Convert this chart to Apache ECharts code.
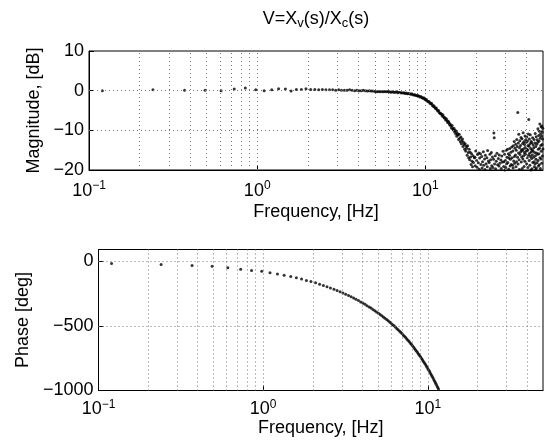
<!DOCTYPE html>
<html>
<head>
<meta charset="utf-8">
<script src="https://cdn.jsdelivr.net/npm/echarts@6/dist/echarts.min.js"></script>
<style>
html, body { margin: 0; padding: 0; background: #fff; }
#chart { width: 545px; height: 444px; }
</style>
</head>
<body>
<div id="chart"></div>
<script>
// frequency bins, Hz
let freq = [
    0.12, 0.24, 0.37, 0.49, 0.61, 0.73, 0.85, 0.98, 1.10, 1.22,
    1.34, 1.47, 1.59, 1.71, 1.83, 1.95, 2.08, 2.20, 2.32, 2.44,
    2.56, 2.69, 2.81, 2.93, 3.05, 3.17, 3.30, 3.42, 3.54, 3.66,
    3.79, 3.91, 4.03, 4.15, 4.27, 4.40, 4.52, 4.64, 4.76, 4.88,
    5.01, 5.13, 5.25, 5.37, 5.49, 5.62, 5.74, 5.86, 5.98, 6.11,
    6.23, 6.35, 6.47, 6.59, 6.72, 6.84, 6.96, 7.08, 7.20, 7.33,
    7.45, 7.57, 7.69, 7.81, 7.94, 8.06, 8.18, 8.30, 8.42, 8.55,
    8.67, 8.79, 8.91, 9.04, 9.16, 9.28, 9.40, 9.52, 9.65, 9.77,
    9.89, 10.01, 10.14, 10.26, 10.38, 10.50, 10.62, 10.75, 10.87, 10.99,
    11.11, 11.23, 11.36, 11.48, 11.60, 11.72, 11.84, 11.97, 12.09, 12.21,
    12.33, 12.45, 12.58, 12.70, 12.82, 12.94, 13.06, 13.19, 13.31, 13.43,
    13.55, 13.68, 13.80, 13.92, 14.04, 14.16, 14.29, 14.41, 14.53, 14.65,
    14.77, 14.90, 15.02, 15.14, 15.26, 15.38, 15.51, 15.63, 15.75, 15.87,
    16.00, 16.12, 16.24, 16.36, 16.48, 16.61, 16.73, 16.85, 16.97, 17.09,
    17.22, 17.34, 17.46, 17.58, 17.70, 17.83, 17.95, 18.07, 18.19, 18.32,
    18.44, 18.56, 18.68, 18.80, 18.93, 19.05, 19.17, 19.29, 19.41, 19.54,
    19.66, 19.78, 19.90, 20.02, 20.15, 20.27, 20.39, 20.51, 20.63, 20.76,
    20.88, 21.00, 21.12, 21.25, 21.37, 21.49, 21.61, 21.73, 21.86, 21.98,
    22.10, 22.22, 22.34, 22.47, 22.59, 22.71, 22.83, 22.96, 23.08, 23.20,
    23.32, 23.44, 23.57, 23.69, 23.81, 23.93, 24.05, 24.18, 24.30, 24.42,
    24.54, 24.67, 24.79, 24.91, 25.03, 25.15, 25.28, 25.40, 25.52, 25.64,
    25.76, 25.89, 26.01, 26.13, 26.25, 26.37, 26.50, 26.62, 26.74, 26.86,
    26.98, 27.11, 27.23, 27.35, 27.47, 27.59, 27.72, 27.84, 27.96, 28.08,
    28.21, 28.33, 28.45, 28.57, 28.69, 28.82, 28.94, 29.06, 29.18, 29.30,
    29.43, 29.55, 29.67, 29.79, 29.91, 30.04, 30.16, 30.28, 30.40, 30.53,
    30.65, 30.77, 30.89, 31.01, 31.14, 31.26, 31.38, 31.50, 31.62, 31.75,
    31.87, 31.99, 32.11, 32.23, 32.36, 32.48, 32.60, 32.72, 32.85, 32.97,
    33.09, 33.21, 33.33, 33.46, 33.58, 33.70, 33.82, 33.94, 34.07, 34.19,
    34.31, 34.43, 34.55, 34.68, 34.80, 34.92, 35.04, 35.16, 35.29, 35.41,
    35.53, 35.65, 35.78, 35.90, 36.02, 36.14, 36.26, 36.39, 36.51, 36.63,
    36.75, 36.87, 37.00, 37.12, 37.24, 37.36, 37.48, 37.61, 37.73, 37.85,
    37.97, 38.10, 38.22, 38.34, 38.46, 38.58, 38.71, 38.83, 38.95, 39.07,
    39.19, 39.32, 39.44, 39.56, 39.68, 39.80, 39.93, 40.05, 40.17, 40.29,
    40.42, 40.54, 40.66, 40.78, 40.90, 41.03, 41.15, 41.27, 41.39, 41.51,
    41.64, 41.76, 41.88, 42.00, 42.12, 42.25, 42.37, 42.49, 42.61, 42.74,
    42.86, 42.98, 43.10, 43.22, 43.35, 43.47, 43.59, 43.71, 43.83, 43.96,
    44.08, 44.20, 44.32, 44.44, 44.57, 44.69, 44.81, 44.93, 45.05, 45.18,
    45.30, 45.42, 45.54, 45.67, 45.79, 45.91, 46.03, 46.15, 46.28, 46.40,
    46.52, 46.64, 46.76, 46.89, 47.01, 47.13, 47.25, 47.37, 47.50, 47.62,
    47.74, 47.86, 47.99, 48.11, 48.23, 48.35, 48.47, 48.60, 48.72, 48.84,
    48.96, 49.08, 49.21, 49.33, 49.45, 49.57, 49.69, 49.82, 49.94
];

// magnitude, dB (one per freq bin)
let magDb = [
    0, 0.2, 0.1, 0.1, 0, 0.4, 0.7, 0.2, 0, 0.2,
    0.5, 0.4, -0.1, 0.3, 0.3, 0.5, 0.3, 0.3, 0.2, 0.3,
    0.2, 0.2, 0.2, 0.1, 0.2, 0.1, 0.1, 0.1, 0.2, 0.1,
    0, 0.1, 0, 0, 0.1, 0, -0.1, 0, -0.1, -0.1,
    -0.2, -0.3, -0.2, -0.3, -0.2, -0.3, -0.2, -0.3, -0.2, -0.3,
    -0.4, -0.3, -0.4, -0.4, -0.3, -0.5, -0.4, -0.5, -0.5, -0.6,
    -0.5, -0.7, -0.6, -0.8, -0.7, -0.8, -0.9, -0.8, -1.0, -1.1,
    -1.0, -1.2, -1.3, -1.2, -1.4, -1.6, -1.5, -1.7, -1.9, -1.8,
    -2.1, -2.3, -2.2, -2.6, -2.8, -2.7, -3.1, -3.3, -3.2, -3.6,
    -3.9, -3.8, -4.2, -4.5, -4.4, -4.8, -5.1, -5.0, -5.5, -5.7,
    -5.8, -5.9, -6.4, -6.1, -6.6, -6.9, -6.8, -7.4, -7.1, -7.5,
    -8.0, -7.7, -8.1, -8.6, -8.4, -8.9, -9.4, -8.8, -9.6, -9.9,
    -9.5, -10.4, -10.0, -10.9, -10.3, -11.5, -10.8, -11.1, -12.3, -11.0,
    -12.0, -12.9, -11.7, -13.4, -12.6, -12.2, -14.1, -13.0, -13.6, -14.8,
    -13.4, -15.2, -14.0, -14.5, -16.3, -13.9, -15.6, -16.9, -14.8, -17.4,
    -15.5, -16.7, -18.6, -15.9, -17.8, -19.2, -16.4, -18.1, -20.3, -16.9,
    -16.8, -18.9, -15.2, -20.4, -17.6, -19.3, -16.1, -21.5, -18.2, -15.7,
    -19.8, -17.0, -20.9, -15.9, -18.6, -22.3, -16.6, -19.5, -17.9, -20.2,
    -15.4, -18.8, -21.7, -17.2, -19.9, -16.3, -20.6, -18.4, -22.8, -16.9,
    -19.2, -15.1, -21.1, -17.7, -20.3, -18.1, -23.4, -16.0, -19.6, -17.4,
    -20.8, -15.6, -18.9, -22.0, -16.7, -19.4, -21.6, -17.3, -10.7, -11.9,
    -18.5, -21.3, -16.4, -19.7, -23.0, -17.8, -20.5, -15.8, -22.1, -18.7,
    -20.9, -17.1, -24.2, -19.0, -16.2, -21.8, -18.3, -20.1, -22.6, -17.5,
    -19.6, -23.5, -16.5, -21.2, -18.0, -20.7, -15.3, -22.4, -19.1, -17.9,
    -21.0, -16.0, -20.0, -23.1, -17.6, -19.4, -15.0, -21.9, -18.4, -16.8,
    -20.3, -14.8, -18.1, -22.5, -15.9, -19.8, -17.0, -21.4, -16.3, -14.6,
    -19.0, -17.3, -22.2, -15.5, -18.6, -20.6, -14.2, -16.9, -21.1, -18.8,
    -15.2, -19.5, -13.9, -17.7, -20.9, -12.8, -16.6, -18.3, -14.5, -21.7,
    -16.2, -13.5, -19.2, -15.0, -17.9, -12.3, -20.4, -14.1, -16.8, -5.5,
    -18.5, -13.2, -15.7, -11.0, -17.4, -19.9, -14.4, -12.6, -16.1, -20.8,
    -13.8, -15.4, -11.8, -18.0, -14.9, -16.7, -12.1, -19.6, -15.1, -13.3,
    -17.2, -10.6, -14.7, -16.4, -12.9, -19.1, -15.6, -13.6, -17.8, -11.4,
    -14.3, -16.0, -12.4, -20.2, -15.3, -13.0, -18.4, -11.7, -14.8, -16.9,
    -12.7, -15.0, -19.4, -13.8, -10.9, -16.3, -7.3, -14.0, -17.6, -12.2,
    -15.8, -18.8, -13.4, -11.1, -16.6, -14.6, -20.0, -12.8, -15.4, -17.1,
    -13.1, -19.7, -14.9, -16.2, -11.9, -18.1, -15.2, -13.7, -20.6, -16.8,
    -14.4, -12.3, -17.9, -19.2, -15.6, -13.2, -18.5, -10.8, -16.4, -19.9,
    -14.1, -17.3, -11.6, -19.5, -15.7, -13.5, -18.2, -12.4, -20.3, -16.0,
    -13.0, -9.6, -17.6, -14.8, -19.0, -11.3, -15.9, -12.7, -18.7, -10.2,
    -14.5, -8.4, -16.9, -12.0, -19.6, -10.9, -13.8, -17.2, -9.1, -15.3,
    -11.5, -18.3, -8.9, -13.6, -10.4, -16.5, -12.2, -9.5, -14.7
];

// phase, deg (first bins only, the rest falls below -1000)
let phaseDeg = [
    -18, -26, -33, -40, -51, -62, -72, -79, -90, -100,
    -109, -119, -129, -139, -149, -158, -168, -178, -188, -197,
    -207, -217, -227, -236, -246, -256, -266, -276, -285, -295,
    -305, -315, -324, -334, -344, -354, -363, -373, -383, -393,
    -403, -412, -422, -432, -442, -451, -461, -471, -481, -491,
    -500, -510, -520, -530, -540, -550, -560, -570, -580, -591,
    -601, -611, -622, -632, -643, -654, -664, -675, -686, -697,
    -708, -719, -730, -741, -752, -764, -775, -786, -798, -809,
    -821, -833, -844, -856, -868, -880, -892, -904, -916, -928,
    -940, -952, -965, -977, -989, -1002, -1014
];

let decadeTicks = [0.1, 1, 10];
let decadeExp = ['\u22121', '0', '1'];
let freqGrid = [0.2, 0.3, 0.4, 0.5, 0.6, 0.7, 0.8, 0.9, 1, 2, 3, 4, 5, 6, 7, 8, 9, 10, 20, 30, 40];
let magGrid = [-10, 0];
let phaseGrid = [-500, 0];

window.addEventListener('load', function () {
    let chart = echarts.init(document.getElementById('chart'));
    let font = 'Liberation Sans, Arial, Helvetica, sans-serif';
    let dotted = {color: '#777', width: 1, type: [1, 3]};

    function decadeLabel(v) {
        for (let i = 0; i < decadeTicks.length; i++) {
            if (Math.abs(Math.log10(v) - Math.log10(decadeTicks[i])) < 1e-6) {
                return '{b|10}{e|' + decadeExp[i] + '}';
            }
        }
        return '';
    }

    function gridLines(ys) {
        let d = freqGrid.map(function (f) { return {xAxis: f}; });
        ys.forEach(function (y) { d.push({yAxis: y}); });
        return {
            silent: true, symbol: 'none', animation: false,
            label: {show: false}, lineStyle: dotted, data: d
        };
    }

    function xAxis(gi, margin, gap) {
        return {
            type: 'log', logBase: 10, gridIndex: gi, min: 0.1, max: 50,
            name: 'Frequency, [Hz]', nameLocation: 'middle', nameGap: gap,
            nameTextStyle: {fontFamily: font, fontSize: 18, color: '#000'},
            axisLine: {onZero: false, lineStyle: {color: '#000', width: 1}},
            axisTick: {inside: true, length: 5, lineStyle: {color: '#000'}},
            splitLine: {show: false},
            axisLabel: {
                margin: margin, formatter: decadeLabel, showMaxLabel: false,
                rich: {
                    b: {fontFamily: font, fontSize: 18, color: '#000'},
                    e: {fontFamily: font, fontSize: 12, color: '#000', padding: [0, 0, 10, 0]}
                }
            }
        };
    }

    function yAxis(gi, min, max, interval, name, gap) {
        return {
            type: 'value', gridIndex: gi, min: min, max: max, interval: interval,
            name: name, nameLocation: 'middle', nameGap: gap,
            nameTextStyle: {fontFamily: font, fontSize: 18, color: '#000'},
            axisLine: {show: true, onZero: false, lineStyle: {color: '#000', width: 1}},
            axisTick: {show: true, inside: true, length: 5, lineStyle: {color: '#000'}},
            splitLine: {show: false},
            axisLabel: {
                margin: 5, fontFamily: font, fontSize: 18, color: '#000',
                showMaxLabel: max % interval === 0,
                formatter: function (v) {
                    if (v % interval !== 0) return '';
                    return String(v).replace('-', '\u2212');
                }
            }
        };
    }

    let magData = freq.map(function (f, i) { return [f, magDb[i]]; });
    let phaseData = phaseDeg.map(function (p, i) { return [freq[i], p]; });

    let option = {
        animation: false,
        backgroundColor: '#fff',
        title: {
            text: '{a|V=X}{s|v}{a|(s)/X}{s|c}{a|(s)}',
            left: 316, top: 8, textAlign: 'center', padding: 0,
            textStyle: {
                fontWeight: 'normal',
                rich: {
                    a: {fontFamily: font, fontSize: 18, fontWeight: 'normal', color: '#000'},
                    s: {fontFamily: font, fontSize: 13, fontWeight: 'normal', color: '#000', padding: [9, 0, 0, 0]}
                }
            }
        },
        grid: [
            {left: 89, right: 2, top: 51, height: 119, show: true, borderColor: '#000', borderWidth: 1},
            {left: 98.5, right: 2, top: 249.5, height: 141, show: true, borderColor: '#000', borderWidth: 1}
        ],
        xAxis: [xAxis(0, 10, 33), xAxis(1, 8, 29)],
        yAxis: [
            yAxis(0, -20, 10, 10, 'Magnitude, [dB]', 43),
            yAxis(1, -1000, 90, 500, 'Phase [deg]', 62)
        ],
        series: [
            {
                type: 'scatter', xAxisIndex: 0, yAxisIndex: 0,
                symbol: 'circle', symbolSize: 3, clip: true,
                itemStyle: {color: '#000'},
                data: magData,
                markLine: gridLines(magGrid)
            },
            {
                type: 'scatter', xAxisIndex: 1, yAxisIndex: 1,
                symbol: 'circle', symbolSize: 3, clip: true,
                itemStyle: {color: '#000'},
                data: phaseData,
                markLine: gridLines(phaseGrid)
            }
        ]
    };

    chart.setOption(option);
}, false);
</script>
</body>
</html>
